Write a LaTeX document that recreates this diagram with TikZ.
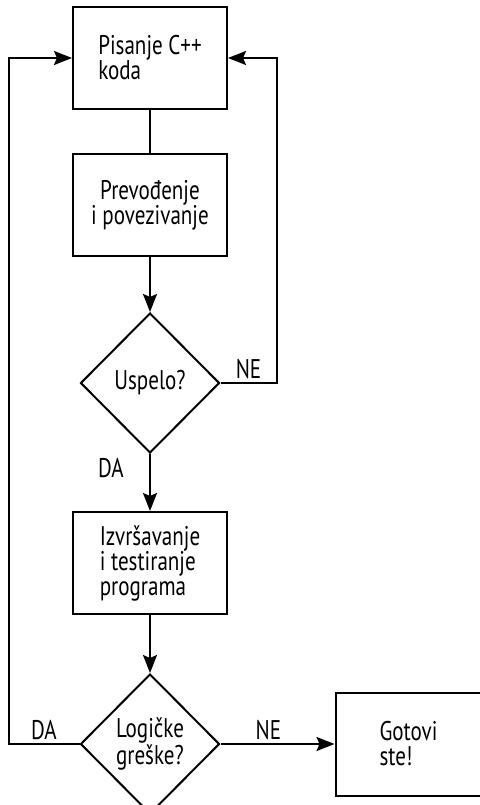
\documentclass[tikz,border=0pt]{standalone}
\usepackage{fontspec}
\setmainfont[FakeStretch=0.78]{PT Sans}
\usetikzlibrary{arrows.meta,positioning,shapes.geometric}

\begin{document}
\begin{tikzpicture}[
  x=1pt, y=1pt,
  font=\fontsize{27}{25}\selectfont,
  stepbox/.style={draw=black, line width=2pt, minimum width=154pt,
                  minimum height=102pt, inner sep=0pt},
  decision/.style={diamond, draw=black, line width=2pt, inner sep=0pt,
                   minimum width=139pt, minimum height=140pt},
  flow/.style={-{Stealth[length=18pt, width=14pt, inset=3pt]},
               line width=2pt, black},
  link/.style={line width=2pt, black}
]
\useasboundingbox (0,0) rectangle (479,-805);
\node[stepbox, align=left] (pisanje) at (150,-58)
  {Pisanje C++\\koda};
\node[stepbox, align=center, below=43pt of pisanje] (prevodjenje)
  {Prevođenje\\i povezivanje};
\node[decision, below=55pt of prevodjenje] (uspelo) {Uspelo?};
\node[stepbox, align=left, below=57pt of uspelo] (izvrsavanje)
  {Izvršavanje\\i testiranje\\programa};
\node[decision, align=left, below=58pt of izvrsavanje] (logicke)
  {Logičke\\greške?};
\node[stepbox, align=left, minimum width=146pt, minimum height=103pt,
      right=114pt of logicke] (gotovi) {Gotovi\\ste!};

\draw[link] (pisanje) -- (prevodjenje);
\draw[flow] (prevodjenje) -- (uspelo);
\draw[flow] (uspelo.east) -- node[above] {NE} ++(56,0) |- (pisanje.east);
\draw[flow] (uspelo) -- node[pos=0.25, left=22pt] {DA} (izvrsavanje);
\draw[flow] (izvrsavanje) -- (logicke);
\draw[flow] (logicke.west) -- node[above] {DA} ++(-71,0) |- (pisanje.west);
\draw[flow] (logicke) -- node[pos=0.42, above] {NE} (gotovi);
\end{tikzpicture}
\end{document}
